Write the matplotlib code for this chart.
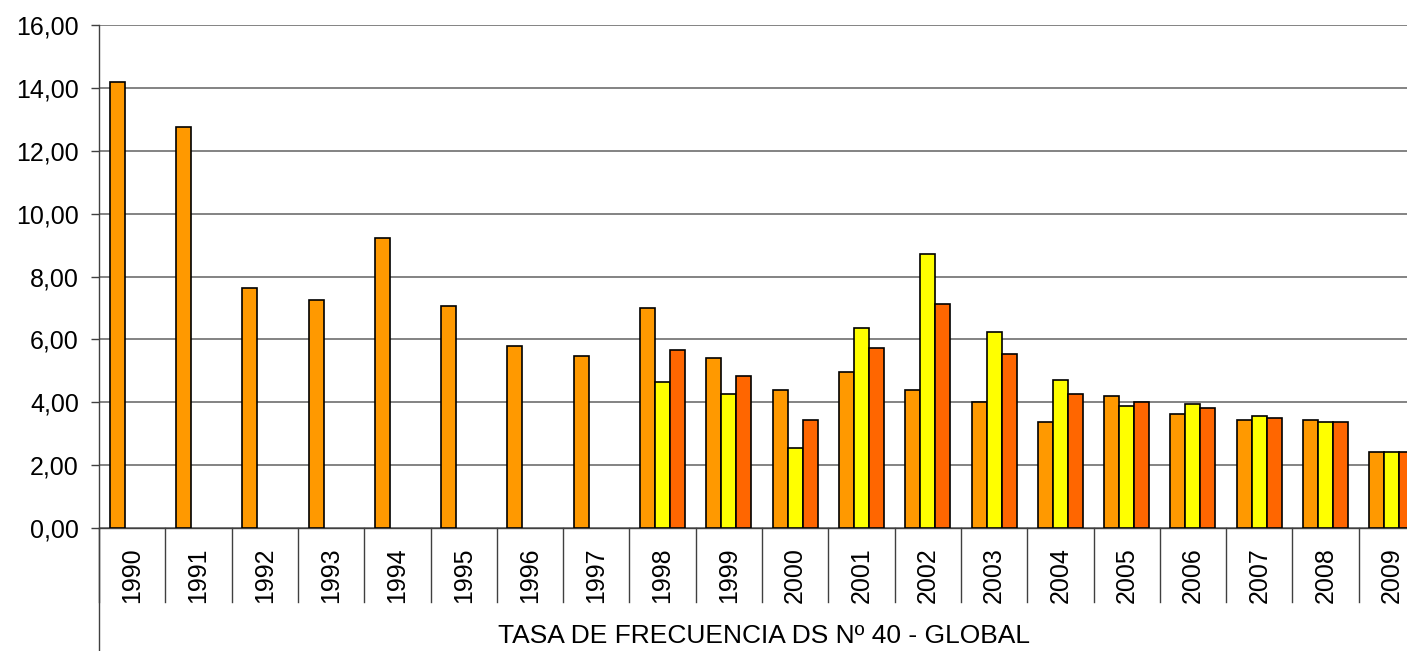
import numpy as np
import matplotlib
matplotlib.use("Agg")
import matplotlib.pyplot as plt
from matplotlib.ticker import FuncFormatter

plt.rcParams["font.family"] = ["Liberation Sans", "DejaVu Sans"]

years = ["1990", "1991", "1992", "1993", "1994", "1995", "1996", "1997", "1998", "1999",
         "2000", "2001", "2002", "2003", "2004", "2005", "2006", "2007", "2008", "2009"]
serie1 = [14.20, 12.74, 7.64, 7.26, 9.23, 7.06, 5.79, 5.47, 7.00, 5.42,
          4.39, 4.96, 4.39, 4.01, 3.38, 4.20, 3.64, 3.44, 3.44, 2.42]
serie2 = [np.nan] * 8 + [4.65, 4.27, 2.55, 6.36, 8.73, 6.24, 4.71, 3.88, 3.95, 3.56, 3.38, 2.42]
serie3 = [np.nan] * 8 + [5.67, 4.85, 3.44, 5.74, 7.14, 5.55, 4.27, 4.01, 3.83, 3.51, 3.38, 2.42]
titulo = "TASA DE FRECUENCIA DS Nº 40 - GLOBAL"

W, H = 1407, 651
fig = plt.figure(figsize=(W / 100, H / 100), dpi=100)
# the plot area runs past the right edge of the picture, as in the original
ax = fig.add_axes([99 / W, (H - 528) / H, (1425 - 99) / W, (528 - 25) / H])

x = np.arange(len(years))
w = 0.226
ax.bar(x - w, serie1, w, color="#FF9900", edgecolor="black", linewidth=1.2, zorder=3)
ax.bar(x, serie2, w, color="#FFFF00", edgecolor="black", linewidth=1.2, zorder=3)
ax.bar(x + w, serie3, w, color="#FF6600", edgecolor="black", linewidth=1.2, zorder=3)

ax.set_xlim(-0.5, len(years) - 0.5)
ax.set_ylim(0, 16)
ax.set_yticks(np.arange(0, 17, 2))
ax.yaxis.set_major_formatter(FuncFormatter(lambda v, p: f"{v:.2f}".replace(".", ",")))
ax.grid(axis="y", color="#7a7a7a", linewidth=1.3, zorder=0)
ax.tick_params(axis="y", length=6, width=1, color="#404040", pad=8.5, labelsize=18)

ax.set_xticks(x)
ax.set_xticklabels(years, rotation=90, fontsize=18)
ax.tick_params(axis="x", length=0, pad=14)

for s in ["top", "right"]:
    ax.spines[s].set_visible(False)
for s in ["left", "bottom"]:
    ax.spines[s].set_color("#404040")
    ax.spines[s].set_linewidth(1)

# category table lines below the axis
depth = (602 - 528) / (528 - 25)
trans = ax.get_xaxis_transform()
for i in range(len(years) + 1):
    ax.plot([i - 0.5, i - 0.5], [0, -depth], transform=trans, color="#404040",
            linewidth=1, clip_on=False)
ax.plot([0, 0], [0, -(H - 528) / (528 - 25)], transform=ax.transAxes,
        color="#404040", linewidth=1, clip_on=False)

fig.text(764 / W, 1 - 636 / H, titulo, ha="center", va="center", fontsize=19)

fig.savefig("out.png", dpi=100)
